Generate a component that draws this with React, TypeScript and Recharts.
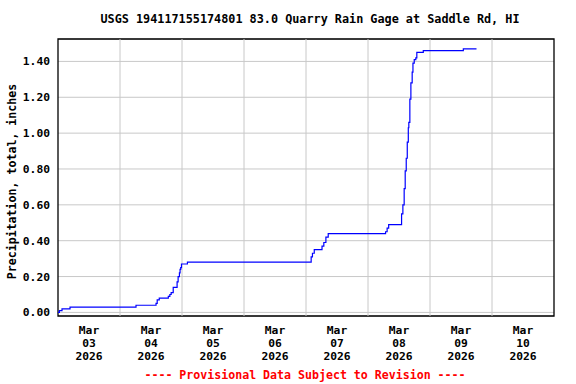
import React from 'react';
import { LineChart, Line, XAxis, YAxis, CartesianGrid, ReferenceArea, ReferenceLine } from 'recharts';

// Hours since Mar 03 2026 00:00 and cumulative precipitation (inches)
const hours = [
  0, 0.54, 1.55, 4.65, 30.2, 37.95, 38.4, 39.2, 42.7, 43.3, 43.8, 44.6, 46.1, 46.5, 47.0,
  47.25, 47.5, 47.8, 50.1, 98.0, 98.5, 99.2, 102.2, 102.9, 103.7, 104.6, 126.8, 127.4,
  128.0, 133.0, 133.5, 134.0, 134.4, 134.8, 135.2, 135.6, 135.8, 136.2, 136.6, 137.1,
  137.4, 137.9, 138.5, 138.9, 141.4, 156.9, 162.0,
];
const totals = [
  0.0, 0.01, 0.02, 0.03, 0.04, 0.05, 0.07, 0.08, 0.09, 0.1, 0.11, 0.14, 0.17, 0.2, 0.22,
  0.24, 0.25, 0.27, 0.28, 0.31, 0.33, 0.35, 0.37, 0.39, 0.42, 0.44, 0.45, 0.47,
  0.49, 0.55, 0.6, 0.69, 0.79, 0.86, 0.95, 1.03, 1.06, 1.19, 1.28, 1.34,
  1.39, 1.41, 1.42, 1.45, 1.46, 1.47, 1.47,
];

const gridTicks = [24, 48, 72, 96, 120, 144, 168];
const labelTicks = [12, 36, 60, 84, 108, 132, 156, 180];
const monthLabels = ['Mar', 'Mar', 'Mar', 'Mar', 'Mar', 'Mar', 'Mar', 'Mar'];
const dayLabels = ['03', '04', '05', '06', '07', '08', '09', '10'];
const yearLabels = ['2026', '2026', '2026', '2026', '2026', '2026', '2026', '2026'];
const yTicks = [0, 0.2, 0.4, 0.6, 0.8, 1.0, 1.2, 1.4];

const title = 'USGS 194117155174801 83.0 Quarry Rain Gage at Saddle Rd, HI';
const yLabel = 'Precipitation, total, inches';
const footer = '---- Provisional Data Subject to Revision ----';

const data = hours.map((h, i) => ({ h, v: totals[i] }));

const FONT = '"DejaVu Sans Mono", "Liberation Mono", monospace';
const Y_MIN = -0.02;
const Y_MAX = 1.525;

const DateTick = (props: any) => {
  const { x, y, index } = props;
  return (
    <text
      x={x}
      y={y}
      textAnchor="middle"
      fontFamily={FONT}
      fontSize={11.3}
      fontWeight="bold"
      fill="#000"
    >
      <tspan x={x} dy={18}>{monthLabels[index]}</tspan>
      <tspan x={x} dy={13}>{dayLabels[index]}</tspan>
      <tspan x={x} dy={13}>{yearLabels[index]}</tspan>
    </text>
  );
};

const YLabelContent = (props: any) => {
  const vb = props.viewBox || { y: 39, height: 277 };
  const cx = 12;
  const cy = vb.y + vb.height / 2 + 4;
  return (
    <text
      x={cx}
      y={cy}
      transform={`rotate(-90 ${cx} ${cy})`}
      textAnchor="middle"
      dominantBaseline="central"
      fontFamily={FONT}
      fontSize={11.6}
      fontWeight="bold"
      fill="#000"
    >
      {yLabel}
    </text>
  );
};

export default function App() {
  return (
    <div style={{ position: 'absolute', left: 0, top: 0, width: 576, height: 384, background: '#fff' }}>
      <div
        style={{
          position: 'absolute',
          left: 58,
          top: 13,
          width: 504,
          textAlign: 'center',
          fontFamily: FONT,
          fontSize: 11.8,
          lineHeight: '12px',
          fontWeight: 'bold',
          color: '#000',
          whiteSpace: 'nowrap',
        }}
      >
        {title}
      </div>
      <LineChart width={576} height={384} data={data} margin={{ top: 39, right: 22, bottom: 0, left: 0 }}>
        <CartesianGrid vertical={false} stroke="#c8c8c8" strokeWidth={1} />
        <XAxis
          dataKey="h"
          type="number"
          domain={[0, 192]}
          ticks={labelTicks}
          tick={<DateTick />}
          tickLine={false}
          tickSize={0}
          tickMargin={0}
          axisLine={false}
          height={68}
          allowDataOverflow
          interval={0}
        />
        <YAxis
          width={58}
          type="number"
          domain={[Y_MIN, Y_MAX]}
          ticks={yTicks}
          allowDataOverflow
          tickFormatter={(v: number) => v.toFixed(2)}
          tickLine={false}
          tickSize={0}
          tickMargin={8}
          axisLine={false}
          interval={0}
          tick={{ fontFamily: FONT, fontSize: 11.3, fontWeight: 'bold', fill: '#000' }}
          label={<YLabelContent />}
        />
        {gridTicks.map((t) => (
          <ReferenceLine key={t} x={t} stroke="#c8c8c8" strokeWidth={1} />
        ))}
        <Line
          type="stepAfter"
          dataKey="v"
          stroke="#0000ff"
          strokeWidth={1.2}
          dot={false}
          isAnimationActive={false}
        />
        <ReferenceArea
          x1={0}
          x2={192}
          y1={Y_MIN}
          y2={Y_MAX}
          fill="none"
          fillOpacity={0}
          stroke="#000"
          strokeWidth={1.3}
          ifOverflow="visible"
        />
      </LineChart>
      <div
        style={{
          position: 'absolute',
          left: 0,
          top: 369,
          width: 610,
          textAlign: 'center',
          fontFamily: FONT,
          fontSize: 11.6,
          lineHeight: '12px',
          fontWeight: 'bold',
          color: '#ff0000',
          whiteSpace: 'nowrap',
        }}
      >
        {footer}
      </div>
    </div>
  );
}
